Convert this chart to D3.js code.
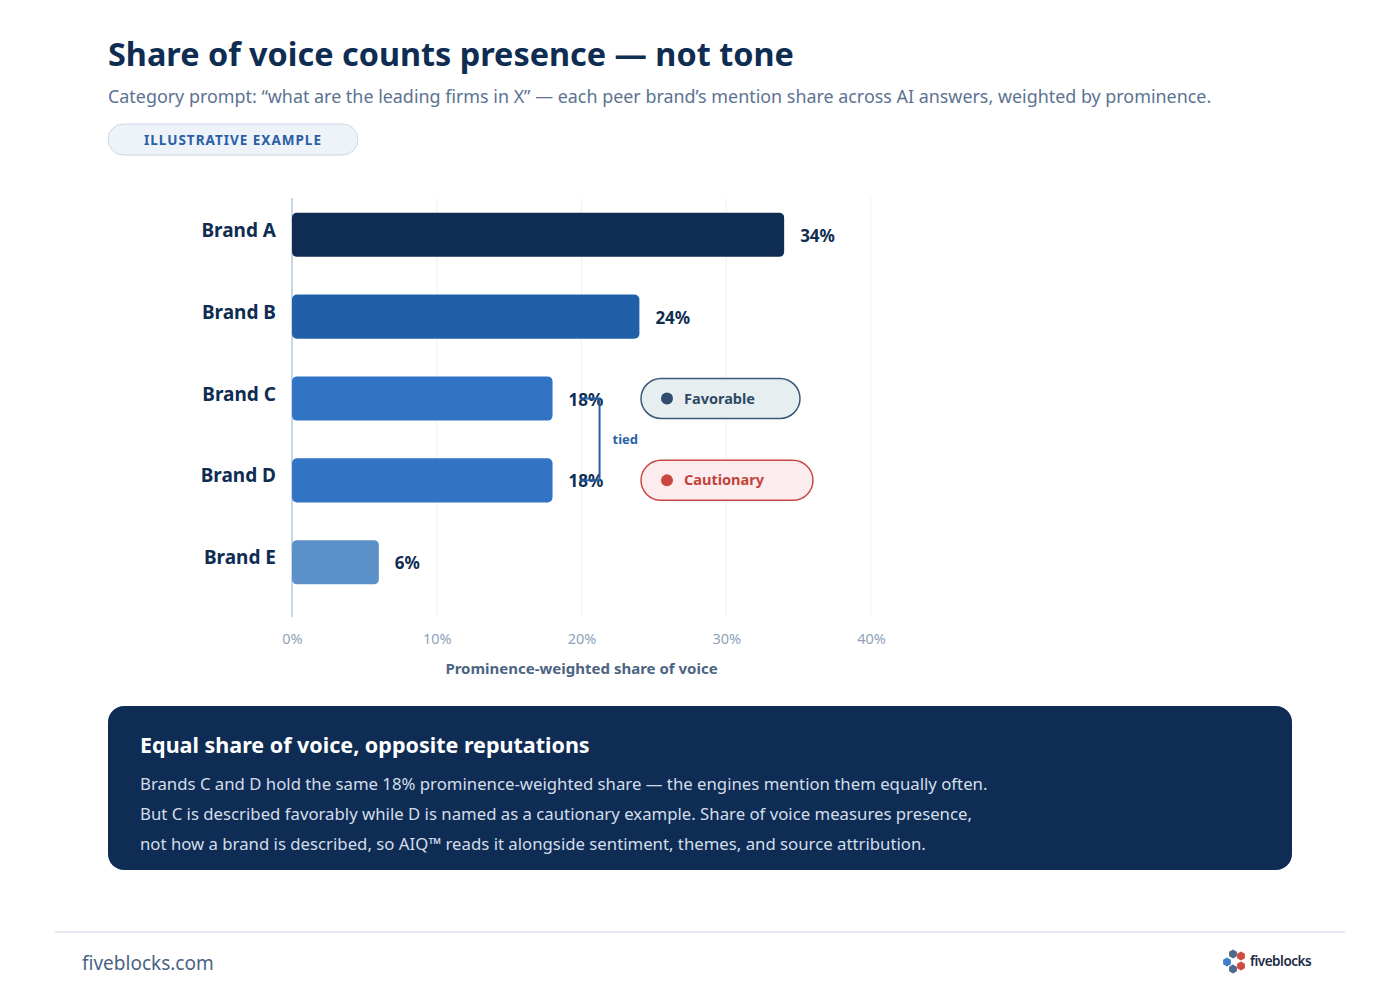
<!DOCTYPE html>
<html>
<head>
<meta charset="utf-8">
<script src="https://cdn.jsdelivr.net/npm/d3@7"></script>
<style>
  body { margin: 0; background: #fff; }
  svg text { font-family: "Segoe UI", "Noto Sans", sans-serif; }
</style>
</head>
<body>
<div id="chart"></div>
<script>
// Data
const brands = ["Brand A", "Brand B", "Brand C", "Brand D", "Brand E"];
const shares = [34, 24, 18, 18, 6];
const barColors = ["#0e2c54", "#2160a8", "#3174c4", "#3174c4", "#5b90c8"];
const xTicks = [0, 10, 20, 30, 40];
const sentiments = [
  { brand: "Brand C", label: "Favorable", fill: "#e7eef0", stroke: "#3b5877", dot: "#2f4d6c", text: "#2f4a66", w: 159 },
  { brand: "Brand D", label: "Cautionary", fill: "#fdeced", stroke: "#c9473e", dot: "#c9473e", text: "#c0443b", w: 172 }
];
const bodyLines = [
  "Brands C and D hold the same 18% prominence-weighted share \u2014 the engines mention them equally often.",
  "But C is described favorably while D is named as a cautionary example. Share of voice measures presence,",
  "not how a brand is described, so AIQ\u2122 reads it alongside sentiment, themes, and source attribution."
];

const W = 1400, H = 1000;
const navy = "#0f2d52";

const svg = d3.select("#chart").append("svg")
  .attr("width", W).attr("height", H);

// Header
svg.append("text").attr("x", 108).attr("y", 66)
  .attr("font-size", 32.4).attr("font-weight", 700).attr("fill", navy)
  .text("Share of voice counts presence \u2014 not tone");
svg.append("text").attr("x", 108).attr("y", 103)
  .attr("font-size", 17.9).attr("fill", "#5b7391")
  .text("Category prompt: \u201cwhat are the leading firms in X\u201d \u2014 each peer brand\u2019s mention share across AI answers, weighted by prominence.");
svg.append("rect").attr("x", 108).attr("y", 124).attr("width", 250).attr("height", 31)
  .attr("rx", 15.5).attr("fill", "#eef3fa").attr("stroke", "#c9d6e6");
svg.append("text").attr("x", 233).attr("y", 145).attr("text-anchor", "middle")
  .attr("font-size", 13.5).attr("font-weight", 700).attr("letter-spacing", 1).attr("fill", "#2a5fa5")
  .text("ILLUSTRATIVE EXAMPLE");

// Scales
const x = d3.scaleLinear().domain([0, 40]).range([292, 871]);
const y = d3.scaleBand().domain(brands).range([175, 622]).padding(0.46);
const gridTop = 198, gridBottom = 617;

// Grid
svg.append("g").selectAll("line").data(xTicks.slice(1)).join("line")
  .attr("x1", d => x(d)).attr("x2", d => x(d))
  .attr("y1", gridTop).attr("y2", gridBottom)
  .attr("stroke", "#edf1f6").attr("stroke-width", 1);
svg.append("line").attr("x1", x(0)).attr("x2", x(0)).attr("y1", gridTop).attr("y2", gridBottom)
  .attr("stroke", "#c8d6e6").attr("stroke-width", 2);

// Axis
const xAxis = svg.append("g").attr("transform", `translate(0,${gridBottom})`)
  .call(d3.axisBottom(x).tickValues(xTicks).tickFormat(d => d + "%").tickSize(0).tickPadding(17))
  .attr("font-size", 14.5).attr("font-family", null);
xAxis.select(".domain").remove();
xAxis.selectAll("text").attr("fill", "#8ea2bb");
svg.append("text").attr("x", x(20)).attr("y", 674).attr("text-anchor", "middle")
  .attr("font-size", 15).attr("font-weight", 700).attr("fill", "#4c6482")
  .text("Prominence-weighted share of voice");

// Bars
const rows = brands.map((b, i) => ({ brand: b, value: shares[i], color: barColors[i] }));
svg.append("g").selectAll("rect").data(rows).join("rect")
  .attr("x", x(0)).attr("y", d => y(d.brand))
  .attr("width", d => x(d.value) - x(0)).attr("height", y.bandwidth())
  .attr("rx", 5).attr("fill", d => d.color);

// Brand labels
svg.append("g").selectAll("text").data(rows).join("text")
  .attr("x", 276).attr("y", d => y(d.brand) + y.bandwidth() / 2 + 2)
  .attr("text-anchor", "end").attr("font-size", 19).attr("font-weight", 700).attr("fill", navy)
  .text(d => d.brand);

// Value labels
svg.append("g").selectAll("text").data(rows).join("text")
  .attr("x", d => x(d.value) + 16).attr("y", d => y(d.brand) + y.bandwidth() / 2 + 7)
  .attr("font-size", 17).attr("font-weight", 700).attr("fill", navy)
  .text(d => d.value + "%");

// Tied bracket
const yC = y("Brand C") + y.bandwidth() / 2, yD = y("Brand D") + y.bandwidth() / 2;
const bx = x(18) + 47;
svg.append("path")
  .attr("d", `M${bx - 20},${yC} H${bx} V${yD} H${bx - 20}`)
  .attr("fill", "none").attr("stroke", "#2160a8").attr("stroke-width", 2);
svg.append("text").attr("x", bx + 13).attr("y", (yC + yD) / 2 + 5)
  .attr("font-size", 13).attr("font-weight", 700).attr("fill", "#2a62a8").text("tied");

// Sentiment pills
const pills = svg.append("g").selectAll("g").data(sentiments).join("g")
  .attr("transform", d => `translate(641,${y(d.brand) + y.bandwidth() / 2 - 20})`);
pills.append("rect").attr("width", d => d.w).attr("height", 40).attr("rx", 20)
  .attr("fill", d => d.fill).attr("stroke", d => d.stroke).attr("stroke-width", 1.5);
pills.append("circle").attr("cx", 26).attr("cy", 20).attr("r", 6).attr("fill", d => d.dot);
pills.append("text").attr("x", 43).attr("y", 25)
  .attr("font-size", 14.5).attr("font-weight", 700).attr("fill", d => d.text)
  .text(d => d.label);

// Takeaway box
svg.append("rect").attr("x", 108).attr("y", 706).attr("width", 1184).attr("height", 164)
  .attr("rx", 16).attr("fill", "#0e2c54");
svg.append("text").attr("x", 140).attr("y", 753)
  .attr("font-size", 21.5).attr("font-weight", 700).attr("fill", "#ffffff")
  .text("Equal share of voice, opposite reputations");
svg.append("g").selectAll("text").data(bodyLines).join("text")
  .attr("x", 140).attr("y", (d, i) => 790 + i * 30)
  .attr("font-size", 16.75).attr("fill", "#d3deea")
  .text(d => d);

// Footer
svg.append("line").attr("x1", 55).attr("x2", 1345).attr("y1", 932).attr("y2", 932)
  .attr("stroke", "#e5ebf1").attr("stroke-width", 2);
svg.append("text").attr("x", 82).attr("y", 970)
  .attr("font-size", 19).attr("fill", "#4a6385").text("fiveblocks.com");

// Logo
const logoDots = [
  { cx: 1233, cy: 954, c: "#4f6a8c" },
  { cx: 1241, cy: 956, c: "#d04a3f" },
  { cx: 1227, cy: 962, c: "#3f7fc7" },
  { cx: 1241, cy: 966, c: "#d04a3f" },
  { cx: 1233, cy: 969, c: "#4f6a8c" }
];
const hex = d3.range(6).map(k => [Math.cos(Math.PI / 3 * k + Math.PI / 6) * 4.5, Math.sin(Math.PI / 3 * k + Math.PI / 6) * 4.5]);
svg.append("g").selectAll("path").data(logoDots).join("path")
  .attr("d", d => "M" + hex.map(p => [d.cx + p[0], d.cy + p[1]].join(",")).join("L") + "Z")
  .attr("fill", d => d.c);
svg.append("text").attr("x", 1250).attr("y", 966)
  .attr("font-size", 13.5).attr("font-weight", 600).attr("letter-spacing", -0.5).attr("fill", "#1d2b45")
  .text("fiveblocks");
</script>
</body>
</html>
